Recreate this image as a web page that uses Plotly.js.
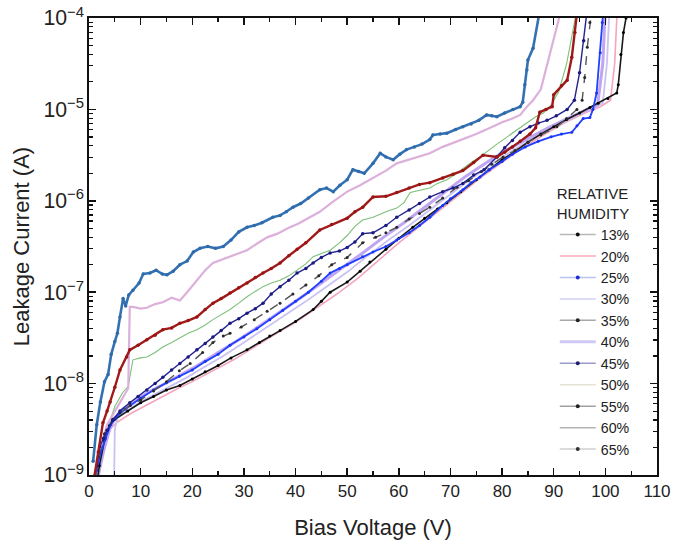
<!DOCTYPE html>
<html>
<head>
<meta charset="utf-8">
<script src="https://cdn.plot.ly/plotly-3.0.1.min.js"></script>
<style>html,body{margin:0;padding:0;background:#fff;}#chart{width:675px;height:548px;}</style>
</head>
<body>
<div id="chart"></div>
<script>
// Relative humidity labels
const humidity = ["13%","20%","25%","30%","35%","40%","45%","50%","55%","60%","65%"];

// Bias voltage (V) and leakage current (A) per series
const v13 = [1.0,2.0,3.0,4.0,5.0,7.5,10.0,12.5,15.0,17.6,20.0,22.5,25.0,27.5,30.6,33.0,35.0,37.0,40.0,43.4,45.0,46.7,50.0,52.5,54.4,57.5,60.0,62.7,65.0,67.5,69.3,72.0,75.0,77.5,80.0,82.5,85.0,87.5,90.0,92.5,95.0,97.0,98.6,100.5,102.2,102.5,103.0,103.5,104.0,104.4];
const i13 = [5.01e-10,1.26e-9,2.40e-9,3.47e-9,4.07e-9,5.01e-9,6.17e-9,7.24e-9,8.51e-9,9.55e-9,1.12e-8,1.35e-8,1.58e-8,1.91e-8,2.34e-8,2.82e-8,3.31e-8,3.80e-8,4.79e-8,6.46e-8,7.94e-8,1.0e-7,1.29e-7,1.70e-7,2.14e-7,2.95e-7,3.89e-7,5.13e-7,6.46e-7,8.13e-7,9.55e-7,1.26e-6,1.70e-6,2.19e-6,2.82e-6,3.47e-6,4.37e-6,5.37e-6,6.46e-6,7.76e-6,9.12e-6,1.05e-5,1.17e-5,1.32e-5,1.51e-5,1.86e-5,3.98e-5,6.92e-5,1.0e-4,1.41e-4];

const v20 = [1.2,1.3,2.5,4.0,5.5,8.0,11.0,14.0,17.0,20.0,24.0,28.0,32.0,36.0,40.0,44.0,48.0,52.0,56.0,60.0,64.0,68.0,72.0,76.0,80.0,84.0,88.0,92.0,96.0,99.0,101.0,101.8,102.3];
const i20 = [3.98e-10,1.12e-9,1.78e-9,3.16e-9,3.80e-9,4.68e-9,5.75e-9,7.08e-9,8.71e-9,1.05e-8,1.38e-8,1.82e-8,2.51e-8,3.47e-8,4.68e-8,6.61e-8,9.55e-8,1.41e-7,2.19e-7,3.47e-7,5.25e-7,7.94e-7,1.20e-6,1.82e-6,2.63e-6,3.80e-6,5.25e-6,7.08e-6,9.12e-6,1.07e-5,1.26e-5,3.16e-5,1.26e-4];

const v25 = [0.8,1.5,2.3,3.2,4.2,5.0,7.0,10.0,12.5,15.0,17.5,20.0,22.5,25.0,27.3,30.0,32.5,35.0,37.5,40.0,42.5,45.0,46.7,48.5,50.0,53.0,55.0,57.5,59.6,62.0,64.0,66.0,68.5,70.0,72.4,74.0,75.7,77.5,80.0,82.0,84.5,87.0,89.5,91.5,93.5,94.5,95.7,97.0,97.6,98.3,99.0,99.4,99.7];
const i25 = [7.94e-10,1.12e-9,1.78e-9,2.51e-9,3.55e-9,4.17e-9,5.25e-9,6.92e-9,8.51e-9,1.02e-8,1.20e-8,1.41e-8,1.74e-8,2.09e-8,2.63e-8,3.24e-8,3.98e-8,5.01e-8,6.31e-8,7.94e-8,1.0e-7,1.32e-7,1.62e-7,1.82e-7,2.0e-7,2.45e-7,2.75e-7,3.16e-7,3.72e-7,4.47e-7,5.37e-7,6.61e-7,8.91e-7,1.05e-6,1.32e-6,1.58e-6,1.82e-6,2.19e-6,2.69e-6,3.24e-6,3.89e-6,4.47e-6,5.01e-6,5.37e-6,5.62e-6,6.61e-6,7.94e-6,8.13e-6,1.0e-5,1.51e-5,4.17e-5,8.91e-5,1.41e-4];

const v30 = [4.8,5.0,5.5,7.0,10.0,13.0,16.0,19.0,22.0,26.0,30.0,34.0,38.0,42.0,46.0,50.0,54.0,58.0,62.0,66.0,70.0,74.0,78.0,82.0,86.0,90.0,94.0,97.0,99.5,100.3,100.8];
const i30 = [5.01e-10,3.16e-9,4.17e-9,4.90e-9,6.31e-9,7.76e-9,9.55e-9,1.17e-8,1.48e-8,2.0e-8,2.82e-8,3.98e-8,5.62e-8,7.94e-8,1.15e-7,1.66e-7,2.51e-7,3.72e-7,5.37e-7,7.94e-7,1.17e-6,1.74e-6,2.51e-6,3.55e-6,4.79e-6,6.31e-6,8.32e-6,1.0e-5,1.17e-5,3.16e-5,1.26e-4];

const v35 = [0.8,1.8,3.0,4.6,6.0,8.0,10.0,12.5,15.0,17.5,19.6,22.0,24.0,26.0,27.3,29.5,32.0,34.5,37.0,39.5,42.0,44.5,47.0,50.0,53.0,55.5,57.5,59.6,62.0,64.0,66.0,68.5,71.3,73.5,76.0,78.0,80.2,82.5,85.0,87.5,90.6,92.5,94.5,95.5,96.0,96.5,97.0,97.4];
const i35 = [6.31e-10,1.58e-9,2.82e-9,4.07e-9,4.79e-9,5.75e-9,6.61e-9,8.32e-9,1.05e-8,1.38e-8,1.66e-8,2.19e-8,2.82e-8,3.31e-8,3.55e-8,4.17e-8,5.01e-8,6.17e-8,7.59e-8,9.55e-8,1.20e-7,1.51e-7,2.0e-7,2.40e-7,3.47e-7,3.98e-7,4.47e-7,5.13e-7,6.31e-7,7.24e-7,8.51e-7,1.07e-6,1.41e-6,1.66e-6,2.09e-6,2.51e-6,3.02e-6,3.55e-6,4.37e-6,5.25e-6,6.46e-6,7.94e-6,1.0e-5,1.26e-5,2.24e-5,4.79e-5,8.91e-5,1.26e-4];

const v40 = [1.0,2.0,3.0,4.0,5.0,6.5,9.0,12.0,15.0,18.0,21.0,25.0,29.0,33.0,37.0,41.0,45.0,49.0,53.0,57.0,61.0,65.0,69.0,73.0,77.0,81.0,85.0,89.0,93.0,96.5,98.5,99.5,100.0];
const i40 = [5.01e-10,1.12e-9,2.0e-9,3.16e-9,4.17e-9,5.25e-9,6.61e-9,8.32e-9,1.02e-8,1.26e-8,1.58e-8,2.19e-8,3.02e-8,4.27e-8,6.03e-8,8.71e-8,1.26e-7,1.82e-7,2.69e-7,3.98e-7,5.75e-7,8.51e-7,1.26e-6,1.86e-6,2.63e-6,3.63e-6,4.79e-6,6.31e-6,8.13e-6,1.0e-5,1.12e-5,3.16e-5,1.26e-4];

const v45 = [0.8,1.5,2.1,2.8,3.5,4.6,6.0,7.9,9.5,11.2,12.8,14.3,16.0,17.6,19.2,20.9,22.5,24.0,25.6,27.3,29.0,30.6,32.2,33.7,35.3,37.0,38.7,40.3,42.0,43.4,45.0,46.7,48.5,50.0,51.5,53.0,55.0,57.5,59.6,62.0,64.0,66.0,68.5,70.5,72.4,74.5,76.5,79.0,80.5,82.0,83.5,85.4,87.0,88.7,90.5,92.6,94.0,95.0,95.8,96.5];
const i45 = [8.91e-10,1.26e-9,2.04e-9,2.51e-9,3.09e-9,3.98e-9,5.01e-9,6.17e-9,7.24e-9,8.51e-9,1.0e-8,1.17e-8,1.41e-8,1.66e-8,1.95e-8,2.34e-8,2.75e-8,3.24e-8,3.80e-8,4.57e-8,5.13e-8,5.89e-8,6.61e-8,7.59e-8,9.55e-8,1.15e-7,1.35e-7,1.62e-7,1.82e-7,2.09e-7,2.40e-7,2.69e-7,2.82e-7,3.09e-7,3.55e-7,4.37e-7,4.47e-7,5.37e-7,6.61e-7,7.94e-7,9.33e-7,1.10e-6,1.26e-6,1.38e-6,1.55e-6,1.91e-6,2.19e-6,3.02e-6,3.80e-6,4.57e-6,5.62e-6,6.46e-6,7.08e-6,7.59e-6,8.51e-6,1.0e-5,1.26e-5,2.51e-5,5.62e-5,1.26e-4];

const v50 = [0.8,2.0,3.5,5.0,6.5,7.6,7.9,8.5,10.0,11.2,12.8,14.3,16.0,17.6,19.2,20.9,22.5,24.0,25.6,27.3,29.0,30.6,32.2,33.7,35.3,37.0,38.7,40.3,42.0,43.4,45.0,46.7,48.5,50.0,51.5,53.0,55.0,57.5,59.6,61.0,62.2,64.0,66.0,67.5,69.3,71.0,72.5,74.0,75.7,77.5,79.0,81.0,83.0,84.8,86.5,88.0,89.5,91.0,92.5,93.5,94.5];
const i50 = [5.01e-10,1.26e-9,3.16e-9,5.62e-9,7.94e-9,9.33e-9,1.17e-8,1.82e-8,1.91e-8,1.95e-8,2.19e-8,2.51e-8,2.82e-8,3.16e-8,3.55e-8,3.89e-8,4.37e-8,5.01e-8,5.62e-8,6.46e-8,7.59e-8,8.91e-8,1.02e-7,1.15e-7,1.26e-7,1.35e-7,1.51e-7,1.74e-7,2.04e-7,2.45e-7,2.63e-7,2.88e-7,3.47e-7,4.17e-7,5.25e-7,6.17e-7,6.61e-7,7.59e-7,8.32e-7,9.55e-7,1.23e-6,1.29e-6,1.38e-6,1.55e-6,1.70e-6,1.95e-6,2.29e-6,2.63e-6,3.02e-6,3.63e-6,4.17e-6,5.01e-6,6.03e-6,7.08e-6,8.32e-6,9.12e-6,1.12e-5,1.58e-5,3.16e-5,6.31e-5,1.26e-4];

const v55 = [0.8,1.8,2.7,3.5,4.1,5.0,6.0,7.3,7.9,9.5,11.2,12.8,14.3,16.0,17.6,19.2,20.9,22.5,24.0,25.6,27.3,29.0,30.6,32.2,33.7,35.3,37.0,38.7,40.3,42.0,44.7,47.0,50.0,51.5,53.0,55.0,57.5,59.6,62.0,64.0,66.0,68.5,70.5,72.4,74.5,76.3,79.0,80.5,82.0,83.5,85.4,86.5,87.3,88.5,89.7,90.0,91.5,92.6,93.5,94.1,94.6];
const i55 = [7.94e-10,1.78e-9,3.72e-9,5.01e-9,6.31e-9,9.12e-9,1.41e-8,1.95e-8,2.34e-8,2.63e-8,3.02e-8,3.39e-8,3.89e-8,4.07e-8,4.57e-8,4.90e-8,5.37e-8,6.46e-8,7.59e-8,8.51e-8,9.77e-8,1.12e-7,1.26e-7,1.45e-7,1.62e-7,1.82e-7,2.09e-7,2.51e-7,2.95e-7,3.47e-7,4.79e-7,5.50e-7,6.46e-7,7.59e-7,8.51e-7,1.10e-6,1.12e-6,1.23e-6,1.38e-6,1.51e-6,1.58e-6,1.78e-6,1.95e-6,2.14e-6,2.63e-6,3.16e-6,3.02e-6,3.39e-6,3.89e-6,4.47e-6,5.37e-6,6.31e-6,9.33e-6,1.0e-5,1.07e-5,1.45e-5,1.82e-5,2.09e-5,3.72e-5,6.92e-5,1.26e-4];

const v60 = [0.8,2.0,3.5,5.0,6.5,7.6,7.9,8.5,10.0,11.2,12.8,14.3,16.0,17.6,19.0,20.9,22.5,24.0,25.5,27.3,29.0,30.6,32.5,34.5,36.5,38.5,40.5,42.5,44.7,47.0,50.0,52.5,55.0,57.5,59.6,62.0,64.0,66.0,68.5,70.5,72.4,75.0,77.7,80.0,82.0,83.5,84.8,86.0,87.5,88.5,89.5,90.8,91.5];
const i60 = [6.31e-10,1.78e-9,3.55e-9,5.01e-9,7.08e-9,8.91e-9,6.92e-8,6.92e-8,6.61e-8,6.76e-8,7.41e-8,7.76e-8,8.71e-8,8.13e-8,1.0e-7,1.35e-7,1.74e-7,2.09e-7,2.24e-7,2.45e-7,2.63e-7,2.88e-7,3.39e-7,3.98e-7,4.37e-7,5.01e-7,5.62e-7,6.46e-7,7.59e-7,9.55e-7,1.26e-6,1.48e-6,1.78e-6,2.14e-6,2.57e-6,2.82e-6,3.09e-6,3.31e-6,3.89e-6,4.27e-6,4.68e-6,5.37e-6,6.31e-6,7.24e-6,7.94e-6,8.71e-6,1.07e-5,1.26e-5,1.66e-5,2.82e-5,4.47e-5,8.91e-5,1.26e-4];

const v65 = [0.8,1.5,2.2,3.0,3.7,4.3,5.0,5.5,6.0,6.6,7.1,7.7,8.5,9.7,10.5,11.8,13.0,14.2,15.1,16.3,17.6,19.0,20.2,21.5,23.0,24.5,26.0,27.5,29.0,30.6,32.0,33.5,35.6,37.0,38.2,39.5,41.0,42.5,44.7,46.0,47.3,48.6,50.0,51.1,52.2,53.3,55.0,56.4,57.5,58.9,60.2,61.5,63.0,64.5,66.0,66.6,68.0,69.3,71.0,72.4,74.0,75.5,77.0,78.0,79.0,80.5,82.1,83.5,84.0,84.4,84.8,85.0,86.0,87.2];
const i65 = [1.41e-9,3.55e-9,6.31e-9,1.05e-8,1.26e-8,2.09e-8,2.88e-8,3.55e-8,5.37e-8,8.51e-8,7.08e-8,9.33e-8,1.05e-7,1.26e-7,1.58e-7,1.62e-7,1.74e-7,1.58e-7,1.55e-7,1.70e-7,2.0e-7,2.19e-7,2.75e-7,3.02e-7,3.16e-7,3.02e-7,3.16e-7,3.72e-7,4.57e-7,5.13e-7,5.37e-7,5.75e-7,6.61e-7,6.92e-7,7.59e-7,8.51e-7,9.33e-7,1.07e-6,1.32e-6,1.38e-6,1.26e-6,1.48e-6,1.70e-6,2.19e-6,2.09e-6,2.0e-6,2.57e-6,3.31e-6,3.02e-6,2.82e-6,3.24e-6,3.63e-6,3.89e-6,4.17e-6,4.68e-6,5.25e-6,5.37e-6,5.50e-6,6.03e-6,6.46e-6,6.92e-6,7.59e-6,8.71e-6,8.51e-6,8.32e-6,9.12e-6,1.0e-5,1.07e-5,1.20e-5,1.86e-5,2.69e-5,3.47e-5,4.68e-5,1.12e-4];

const voltages = [v13,v20,v25,v30,v35,v40,v45,v50,v55,v60,v65];
const currents = [i13,i20,i25,i30,i35,i40,i45,i50,i55,i60,i65];

// styles: curve appearance and faded legend appearance
const curveStyle = [
  {line:{color:'#1a1a1a',width:1.6}, marker:{color:'#000',size:3}},
  {line:{color:'#f3a6bd',width:1.6}},
  {line:{color:'#2040ff',width:1.8}, marker:{color:'#1a35f0',size:3}},
  {line:{color:'#c9c2f3',width:1.8}},
  {line:{color:'#555555',width:1.4,dash:'dash'}, marker:{color:'#2a2a2a',size:3}},
  {line:{color:'#c0a6f2',width:3}},
  {line:{color:'#23238f',width:1.4}, marker:{color:'#1a1a80',size:3.5}},
  {line:{color:'#7cc07a',width:1.1}},
  {line:{color:'#a01a1a',width:2.4}, marker:{color:'#9a1414',size:3.5}},
  {line:{color:'#dcb0da',width:2.2}},
  {line:{color:'#3471b3',width:2.6}, marker:{color:'#2f6aab',size:3.5}}
];
const legendStyle = [
  {line:{color:'#b8b8b8',width:1.5}, marker:{color:'#111',size:4}},
  {line:{color:'#f7a8b8',width:1.5}},
  {line:{color:'#b8c4f0',width:1.5}, marker:{color:'#1c2ad8',size:4}},
  {line:{color:'#d0d0f6',width:1.5}},
  {line:{color:'#a8a8a8',width:1.5}, marker:{color:'#222',size:4}},
  {line:{color:'#d0c8f4',width:3}},
  {line:{color:'#9a9ac8',width:1.5}, marker:{color:'#20206a',size:4}},
  {line:{color:'#e4e4d0',width:1.5}},
  {line:{color:'#a0a0a0',width:1.5}, marker:{color:'#222',size:4}},
  {line:{color:'#b4b4b4',width:1.5}},
  {line:{color:'#cfcfcf',width:1.5}, marker:{color:'#333',size:4}}
];

function makeTrace(base, s) {
  base.mode = s.marker ? 'lines+markers' : 'lines';
  base.line = s.line;
  if (s.marker) base.marker = s.marker;
  return base;
}

const drawOrder = [1,3,5,7,9,0,2,4,6,8,10];
const traces = [];
drawOrder.forEach(k => {
  traces.push(makeTrace({
    type:'scatter', x: voltages[k], y: currents[k], name: humidity[k],
    showlegend:false, legendgroup: humidity[k], hoverinfo:'skip'
  }, curveStyle[k]));
});
humidity.forEach((h,k) => {
  traces.push(makeTrace({
    type:'scatter', x:[null], y:[null], name: h, legendgroup: h, showlegend:true
  }, legendStyle[k]));
});

const font = 'Liberation Sans, Arial, sans-serif';
const layout = {
  width:675, height:548,
  margin:{l:89, r:18, t:18, b:73},
  paper_bgcolor:'#fff', plot_bgcolor:'#fff',
  font:{family:font, color:'#222', size:16},
  showlegend:true,
  legend:{
    x:0.82, y:0.646, xanchor:'left', yanchor:'top',
    bgcolor:'rgba(0,0,0,0)', borderwidth:0,
    font:{family:font, size:14.2, color:'#222'},
    title:{text:'RELATIVE<br>HUMIDITY', font:{family:font, size:15, color:'#222'}},
    itemwidth:36, tracegroupgap:0
  },
  xaxis:{
    range:[0,110], dtick:10, tick0:0,
    ticks:'inside', ticklen:7, tickwidth:1.5, tickcolor:'#111',
    mirror:'ticks', showline:true, linewidth:1.6, linecolor:'#111',
    showgrid:false, zeroline:false,
    minor:{ticks:'inside', ticklen:4, tickwidth:1.2, dtick:5, tickcolor:'#111', showgrid:false},
    tickfont:{family:font, size:17, color:'#222'},
    title:{text:'Bias Voltage (V)', font:{family:font, size:22, color:'#222'}, standoff:19}
  },
  yaxis:{
    type:'log', range:[-9,-4], dtick:1,
    exponentformat:'power', showexponent:'all',
    ticks:'inside', ticklen:7, tickwidth:1.5, tickcolor:'#111',
    mirror:'ticks', showline:true, linewidth:1.6, linecolor:'#111',
    showgrid:false, zeroline:false,
    minor:{ticks:'inside', ticklen:4, tickwidth:1.2, tickcolor:'#111', showgrid:false},
    tickfont:{family:font, size:17, color:'#222'},
    title:{text:'Leakage Current (A)', font:{family:font, size:22, color:'#222'}, standoff:8}
  }
};

Plotly.newPlot('chart', traces, layout, {displayModeBar:false, staticPlot:true});
</script>
</body>
</html>
